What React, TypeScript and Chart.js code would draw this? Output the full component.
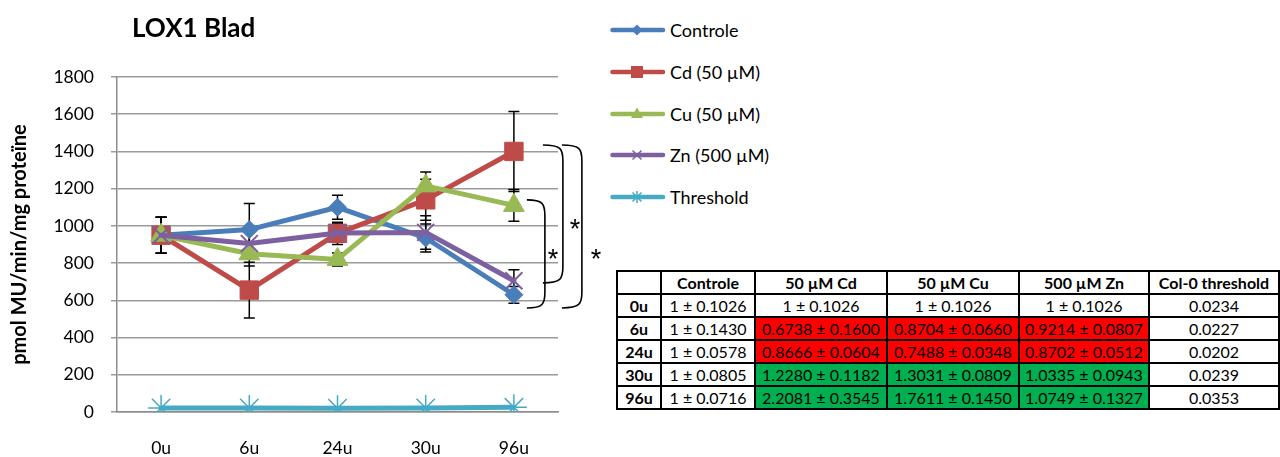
import React, { useEffect, useRef } from 'react';
import { Chart, registerables } from 'chart.js';

Chart.register(...registerables);

// ---------- data ----------
const categories = ['0u', '6u', '24u', '30u', '96u'];
const controle = [950, 980, 1100, 935, 630];
const controleErr = [97, 140, 64, 75, 45];
const cd = [950, 655, 960, 1140, 1400];
const cdErr = [97, 150, 60, 110, 215];
const cu = [950, 850, 820, 1215, 1110];
const cuErr = [97, 65, 35, 75, 85];
const zn = [950, 905, 962, 965, 705];
const znErr = [97, 80, 50, 90, 60];
const threshold = [22, 22, 20, 22, 25];
const yMin = 0;
const yMax = 1800;
const yStep = 200;

const seriesNames = ['Controle', 'Cd (50 µM)', 'Cu (50 µM)', 'Zn (500 µM)', 'Threshold'];
const seriesColors = ['#4a7ebb', '#be4b48', '#98b954', '#7d60a0', '#46aac5'];

// significance brackets at 96u (data units)
const bracketTops = [1140, 1435, 1435];
const bracketBottoms = [559, 694, 559];
const bracketStars = [855, 1016, 855];

// table
const tableHeader = ['', 'Controle', '50 µM Cd', '50 µM Cu', '500 µM Zn', 'Col-0 threshold'];
const tableRowLabels = ['0u', '6u', '24u', '30u', '96u'];
const tableControle = ['1 ± 0.1026', '1 ± 0.1430', '1 ± 0.0578', '1 ± 0.0805', '1 ± 0.0716'];
const tableCd = ['1 ± 0.1026', '0.6738 ± 0.1600', '0.8666 ± 0.0604', '1.2280 ± 0.1182', '2.2081 ± 0.3545'];
const tableCu = ['1 ± 0.1026', '0.8704 ± 0.0660', '0.7488 ± 0.0348', '1.3031 ± 0.0809', '1.7611 ± 0.1450'];
const tableZn = ['1 ± 0.1026', '0.9214 ± 0.0807', '0.8702 ± 0.0512', '1.0335 ± 0.0943', '1.0749 ± 0.1327'];
const tableThreshold = ['0.0234', '0.0227', '0.0202', '0.0239', '0.0353'];
const rowStatus = ['none', 'down', 'down', 'up', 'up'];

const FONT = 'Lato, "Open Sans", sans-serif';

const errorBarPlugin = {
  id: 'errorBars',
  beforeDatasetsDraw(chart: any) {
    const ctx = chart.ctx;
    const xs = chart.scales.x;
    const ys = chart.scales.y;
    ctx.save();
    ctx.strokeStyle = '#000';
    ctx.lineWidth = 1.5;
    chart.data.datasets.forEach((ds: any) => {
      if (!ds.errors) return;
      ds.data.forEach((v: number, i: number) => {
        const e = ds.errors[i];
        const x = xs.getPixelForValue(i);
        const yt = ys.getPixelForValue(v + e);
        const yb = ys.getPixelForValue(v - e);
        ctx.beginPath();
        ctx.moveTo(x, yt);
        ctx.lineTo(x, yb);
        ctx.moveTo(x - 5.5, yt);
        ctx.lineTo(x + 5.5, yt);
        ctx.moveTo(x - 5.5, yb);
        ctx.lineTo(x + 5.5, yb);
        ctx.stroke();
      });
    });
    ctx.restore();
  },
};

const bracketPlugin = {
  id: 'brackets',
  afterDatasetsDraw(chart: any) {
    const ctx = chart.ctx;
    const xs = chart.scales.x;
    const ys = chart.scales.y;
    const x0 = xs.getPixelForValue(categories.length - 1);
    const lefts = [13, 29, 48];
    const rights = [31, 49, 68];
    const stars = [39, 61, 82];
    ctx.save();
    ctx.strokeStyle = '#000';
    ctx.fillStyle = '#000';
    ctx.lineWidth = 1.6;
    bracketTops.forEach((tv, i) => {
      const xl = x0 + lefts[i];
      const xr = x0 + rights[i];
      const yt = ys.getPixelForValue(tv);
      const yb = ys.getPixelForValue(bracketBottoms[i]);
      ctx.beginPath();
      ctx.moveTo(xl, yt);
      ctx.bezierCurveTo(xr - 2, yt, xr, yt + 4, xr, yt + 16);
      ctx.lineTo(xr, yb - 16);
      ctx.bezierCurveTo(xr, yb - 4, xr - 2, yb, xl, yb);
      ctx.stroke();
      ctx.font = `27px "Liberation Sans", "DejaVu Sans", sans-serif`;
      ctx.textAlign = 'center';
      ctx.textBaseline = 'alphabetic';
      ctx.fillText('*', x0 + stars[i], ys.getPixelForValue(bracketStars[i]) + 15);
    });
    ctx.restore();
  },
};

function ChartCanvas() {
  const ref = useRef<HTMLCanvasElement | null>(null);
  useEffect(() => {
    if (!ref.current) return;
    const mk = (i: number, data: number[], errors: number[] | null, style: string, radius: number, pbw: number) => ({
      label: seriesNames[i],
      data,
      errors,
      borderColor: seriesColors[i],
      backgroundColor: seriesColors[i],
      pointBackgroundColor: seriesColors[i],
      pointBorderColor: seriesColors[i],
      borderWidth: 5,
      borderCapStyle: 'round',
      borderJoinStyle: 'round',
      pointStyle: style,
      pointRadius: radius,
      pointBorderWidth: pbw,
      tension: 0,
      order: 5 - i,
    });
    const chart = new Chart(ref.current, {
      type: 'line',
      data: {
        labels: categories,
        datasets: [
          mk(0, controle, controleErr, 'rectRot', 9, 1),
          mk(1, cd, cdErr, 'rect', 13, 1),
          mk(2, cu, cuErr, 'triangle', 12, 1),
          mk(3, zn, znErr, 'crossRot', 12, 2),
          mk(4, threshold, null, 'star', 13, 1.5),
        ] as any,
      },
      options: {
        animation: false,
        responsive: false,
        maintainAspectRatio: false,
        layout: { padding: { left: 0, right: 52, top: 77, bottom: 0 } },
        plugins: {
          legend: { display: false },
          title: { display: false },
          tooltip: { enabled: false },
        },
        scales: {
          x: {
            type: 'category',
            offset: true,
            grid: { display: false, drawTicks: false },
            border: { display: true, color: '#8c8c8c', width: 1.5 },
            ticks: { font: { family: FONT, size: 17.5 }, color: '#000', padding: 26 },
            afterFit: (s: any) => { s.height = 45; },
          },
          y: {
            min: yMin,
            max: yMax,
            ticks: {
              stepSize: yStep,
              font: { family: FONT, size: 17.5 },
              color: '#000',
              padding: 17,
              callback: (v: any) => String(v),
            },
            grid: { color: '#9a9a9a', lineWidth: 1.5, tickLength: 6 },
            border: { color: '#8c8c8c', width: 1.5 },
            title: {
              display: true,
              text: 'pmol MU/min/mg proteïne',
              font: { family: FONT, size: 20, weight: 'bold' },
              color: '#000',
              padding: { top: 8, bottom: 0 },
            },
            afterFit: (s: any) => { s.width = 117; },
          },
        },
      } as any,
      plugins: [errorBarPlugin, bracketPlugin],
    });
    return () => chart.destroy();
  }, []);
  return <canvas ref={ref} width={610} height={457} style={{ position: 'absolute', left: 0, top: 0, width: 610, height: 457 }} />;
}

function LegendMarker({ i }: { i: number }) {
  const c = seriesColors[i];
  const cx = 27;
  const cy = 8;
  let m: any = null;
  if (i === 0) m = <polygon points={`${cx - 5.5},${cy} ${cx},${cy - 5.5} ${cx + 5.5},${cy} ${cx},${cy + 5.5}`} fill={c} />;
  if (i === 1) m = <rect x={cx - 6} y={cy - 6} width={12} height={12} fill={c} />;
  if (i === 2) m = <polygon points={`${cx},${cy - 6.5} ${cx + 6},${cy + 4} ${cx - 6},${cy + 4}`} fill={c} />;
  if (i === 3) m = <path d={`M${cx - 4.5},${cy - 4.5}L${cx + 4.5},${cy + 4.5}M${cx - 4.5},${cy + 4.5}L${cx + 4.5},${cy - 4.5}`} stroke={c} strokeWidth={1.5} />;
  if (i === 4) m = <path d={`M${cx - 4.5},${cy - 4.5}L${cx + 4.5},${cy + 4.5}M${cx - 4.5},${cy + 4.5}L${cx + 4.5},${cy - 4.5}M${cx},${cy - 6}L${cx},${cy + 6}`} stroke={c} strokeWidth={1.5} />;
  return (
    <svg width={56} height={16} style={{ display: 'block' }}>
      <line x1={2.5} y1={cy} x2={53} y2={cy} stroke={c} strokeWidth={4.5} strokeLinecap="round" />
      {m}
    </svg>
  );
}

function Legend() {
  const ys = [30, 72, 114, 155, 197];
  return (
    <>
      {seriesNames.map((n, i) => (
        <div key={n} style={{ position: 'absolute', left: 610, top: ys[i] - 12, height: 24, display: 'flex', alignItems: 'center', whiteSpace: 'nowrap' }}>
          <LegendMarker i={i} />
          <span style={{ marginLeft: 4, fontFamily: FONT, fontSize: 18, color: '#000', lineHeight: '24px' }}>{n}</span>
        </div>
      ))}
    </>
  );
}

function DataTable() {
  const colW = [44, 94, 132, 132, 130, 130];
  const border = '2px solid #000';
  const cellBase: any = { border, padding: 0, textAlign: 'center', fontFamily: FONT, fontSize: 16, color: '#000', height: 21, lineHeight: '20px', whiteSpace: 'nowrap' };
  const bg = (s: string) => (s === 'down' ? '#ff0000' : s === 'up' ? '#00b050' : '#fff');
  return (
    <table style={{ position: 'absolute', left: 616, top: 270, borderCollapse: 'collapse', tableLayout: 'fixed', width: 662 }}>
      <colgroup>
        {colW.map((w, i) => <col key={i} style={{ width: w }} />)}
      </colgroup>
      <tbody>
        <tr>
          {tableHeader.map((h, i) => <td key={i} style={{ ...cellBase, fontWeight: 'bold' }}>{h}</td>)}
        </tr>
        {tableRowLabels.map((r, ri) => (
          <tr key={r}>
            <td style={{ ...cellBase, fontWeight: 'bold' }}>{r}</td>
            <td style={cellBase}>{tableControle[ri]}</td>
            <td style={{ ...cellBase, background: bg(rowStatus[ri]) }}>{tableCd[ri]}</td>
            <td style={{ ...cellBase, background: bg(rowStatus[ri]) }}>{tableCu[ri]}</td>
            <td style={{ ...cellBase, background: bg(rowStatus[ri]) }}>{tableZn[ri]}</td>
            <td style={cellBase}>{tableThreshold[ri]}</td>
          </tr>
        ))}
      </tbody>
    </table>
  );
}

export default function App() {
  return (
    <div style={{ position: 'absolute', left: 0, top: 0, width: 1280, height: 457, background: '#fff', overflow: 'hidden' }}>
      <ChartCanvas />
      <div style={{ position: 'absolute', left: 132, top: 10, fontFamily: FONT, fontSize: 26, fontWeight: 'bold', color: '#000', lineHeight: '34px', whiteSpace: 'nowrap' }}>LOX1 Blad</div>
      <Legend />
      <DataTable />
    </div>
  );
}
